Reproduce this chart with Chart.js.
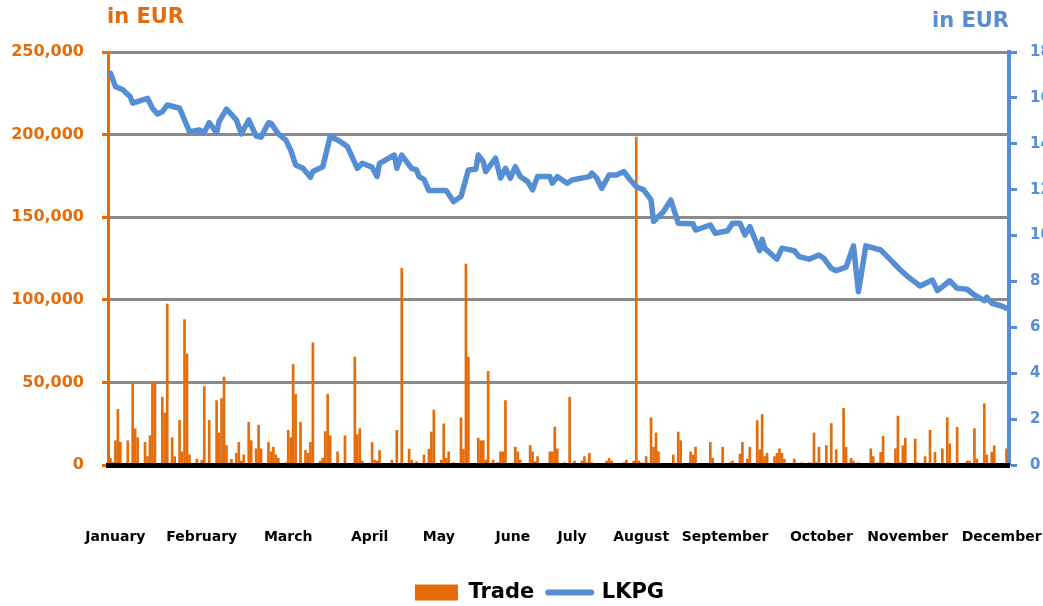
<!DOCTYPE html>
<html>
<head>
<meta charset="utf-8">
<script src="https://cdn.jsdelivr.net/npm/chart.js@4/dist/chart.umd.min.js"></script>
<style>
  html, body { margin: 0; padding: 0; background: #fff; }
</style>
</head>
<body>
<canvas id="myChart" width="1043" height="606"></canvas>
<script>
// month labels, placed on the day where they sit on the axis
const monthNames = ['January', 'February', 'March', 'April', 'May', 'June',
    'July', 'August', 'September', 'October', 'November', 'December'];
const monthDays = [3, 38, 73, 106, 134, 164, 188, 216, 250, 289, 324, 362];

// LKPG share price (right axis, EUR) - day of year / value
const priceDays = [
    1, 3, 6, 9, 10, 16, 18, 20, 22, 24,
    29, 33, 37, 39, 41, 44, 45, 48, 52, 54,
    57, 60, 62, 65, 66, 69, 72, 74, 76, 79,
    82, 83, 87, 90, 93, 97, 101, 103, 107, 109,
    110, 116, 117, 119, 123, 125, 126, 128, 130, 137,
    140, 143, 146, 149, 150, 152, 153, 157, 159, 161,
    163, 165, 167, 170, 172, 174, 179, 180, 182, 186,
    188, 195, 196, 198, 200, 203, 206, 209, 211, 214,
    217, 220, 221, 225, 228, 231, 237, 238, 244, 246,
    251, 253, 256, 258, 260, 264, 265, 266, 271, 273,
    278, 280, 284, 288, 290, 293, 295, 299, 302, 304,
    307, 313, 316, 321, 324, 329, 334, 336, 341, 344,
    348, 351, 355, 356, 358, 362, 364
];
const priceValues = [
    17.07, 16.50, 16.35, 16.05, 15.77, 15.98, 15.55, 15.30, 15.40, 15.69,
    15.55, 14.53, 14.60, 14.49, 14.92, 14.49, 14.97, 15.51, 15.04, 14.43,
    15.04, 14.34, 14.29, 14.92, 14.90, 14.43, 14.17, 13.73, 13.08, 12.93,
    12.54, 12.79, 13.00, 14.31, 14.17, 13.88, 12.93, 13.15, 12.98, 12.57,
    13.15, 13.51, 12.93, 13.51, 12.93, 12.86, 12.57, 12.45, 11.96, 11.96,
    11.48, 11.70, 12.86, 12.89, 13.51, 13.22, 12.79, 13.37, 12.50, 12.93,
    12.50, 13.00, 12.57, 12.35, 11.99, 12.57, 12.57, 12.28, 12.57, 12.28,
    12.42, 12.57, 12.72, 12.50, 12.06, 12.64, 12.64, 12.79, 12.50, 12.13,
    11.99, 11.55, 10.61, 11.04, 11.55, 10.54, 10.51, 10.24, 10.46, 10.10,
    10.21, 10.54, 10.54, 10.03, 10.39, 9.34, 9.84, 9.45, 8.97, 9.45,
    9.34, 9.08, 8.97, 9.15, 9.01, 8.57, 8.47, 8.62, 9.55, 7.55,
    9.55, 9.37, 9.05, 8.50, 8.21, 7.80, 8.06, 7.60, 8.03, 7.70,
    7.66, 7.41, 7.16, 7.31, 7.05, 6.93, 6.83
];

// Trade (left axis, EUR) - day of year / value
const tradeDays = [
    1, 2, 3, 4, 5, 8, 9, 10, 11, 12,
    15, 16, 17, 18, 19, 22, 23, 24, 26, 27,
    29, 30, 31, 32, 33, 36, 38, 39, 41, 44,
    45, 46, 47, 48, 50, 52, 53, 54, 55, 57,
    58, 60, 61, 62, 65, 66, 67, 68, 69, 72,
    73, 74, 75, 76, 78, 80, 81, 82, 83, 86,
    87, 88, 89, 90, 93, 94, 96, 100, 101, 102,
    103, 107, 108, 109, 110, 115, 117, 119, 122, 123,
    125, 128, 130, 131, 132, 135, 136, 137, 138, 140,
    143, 144, 145, 146, 150, 151, 152, 153, 154, 156,
    158, 159, 160, 161, 165, 166, 167, 171, 172, 173,
    174, 177, 179, 180, 181, 182, 185, 187, 189, 192,
    193, 194, 195, 196, 199, 202, 203, 204, 206, 208,
    209, 210, 213, 214, 215, 216, 218, 220, 221, 222,
    223, 224, 228, 229, 231, 232, 236, 237, 238, 243,
    244, 245, 249, 252, 253, 256, 257, 259, 260, 263,
    264, 265, 266, 267, 270, 271, 272, 273, 274, 278,
    281, 284, 286, 287, 288, 291, 293, 295, 298, 299,
    301, 302, 304, 309, 310, 312, 313, 314, 316, 319,
    320, 321, 322, 323, 327, 328, 331, 333, 335, 338,
    340, 341, 344, 348, 349, 351, 352, 355, 356, 358,
    359, 363, 364
];
const tradeValues = [
    4000, 1500, 14700, 33700, 13700, 14700, 1000, 50000, 22000, 16500,
    13700, 5100, 17700, 50000, 50000, 41000, 31600, 97500, 16500, 5100,
    27000, 8000, 88000, 67300, 6100, 3500, 3000, 47500, 27000, 39000,
    19400, 40200, 53200, 11800, 3500, 7100, 13700, 2400, 6100, 25900,
    14700, 9800, 24100, 9800, 13700, 8000, 10800, 6100, 4100, 1400,
    21000, 16500, 60800, 42800, 25900, 8800, 7100, 13700, 74000, 2400,
    4100, 20200, 42800, 17700, 8000, 1000, 17700, 65300, 18400, 22000,
    2400, 13700, 3000, 2400, 8800, 3000, 21000, 119000, 9600, 3000,
    2000, 6100, 9600, 20000, 33300, 3000, 24900, 4100, 8000, 1400,
    28600, 9600, 121700, 65300, 16300, 14700, 14700, 3000, 56700, 3000,
    1400, 8000, 8000, 39000, 10800, 8000, 3000, 11800, 8000, 2000,
    5100, 800, 8000, 8000, 23000, 9800, 1400, 41000, 2400, 2400,
    5100, 1400, 7100, 1400, 700, 2400, 4100, 2400, 800, 700,
    1400, 3000, 2400, 198500, 2400, 1400, 5100, 28600, 10800, 19400,
    8000, 1000, 800, 6100, 20000, 14700, 8000, 6100, 10800, 1000,
    13700, 4100, 10800, 1400, 2400, 6700, 13700, 3500, 10800, 26900,
    9200, 30600, 5100, 7100, 5100, 7100, 9800, 7100, 3500, 3500,
    1400, 1400, 19400, 1400, 10800, 11800, 25100, 9200, 34300, 10800,
    4100, 2400, 1400, 9800, 5100, 1400, 7750, 17300, 1400, 9800,
    29600, 1400, 11600, 16300, 15700, 1400, 5100, 21000, 7750, 9800,
    28600, 12800, 22800, 2400, 2400, 22000, 3500, 37100, 6100, 7750,
    11600, 500, 9800
];

const unitLabel = 'in EUR';

const ORANGE = '#E46C0A';
const BLUE = '#558ED5';
const GRID = '#8a8a8a';
const FONT = "'DejaVu Sans', sans-serif";

// "in EUR" over each axis
const axisUnits = {
    id: 'axisUnits',
    afterDraw(chart) {
        const c = chart.ctx;
        c.save();
        c.font = 'bold 21px ' + FONT;
        c.textBaseline = 'middle';
        c.fillStyle = ORANGE;
        c.textAlign = 'left';
        c.fillText(unitLabel, chart.chartArea.left - 1, 18);
        c.fillStyle = BLUE;
        c.textAlign = 'right';
        c.fillText(unitLabel, chart.chartArea.right, 22);
        c.restore();
    }
};

// legend sits a bit right of the canvas centre in the original
const legendNudge = {
    id: 'legendNudge',
    afterLayout(chart) {
        chart.legend.left += 18;
        chart.legend.right += 18;
    }
};

const ctx = document.getElementById('myChart').getContext('2d');
new Chart(ctx, {
    data: {
        datasets: [{
            type: 'bar',
            label: 'Trade',
            data: tradeDays.map((d, i) => ({ x: d, y: tradeValues[i] })),
            yAxisID: 'y',
            backgroundColor: ORANGE,
            barThickness: 2,
            order: 2
        }, {
            type: 'line',
            label: 'LKPG',
            data: priceDays.map((d, i) => ({ x: d, y: priceValues[i] })),
            yAxisID: 'y1',
            borderColor: BLUE,
            borderWidth: 5.5,
            pointRadius: 0,
            tension: 0,
            borderJoinStyle: 'round',
            borderCapStyle: 'round',
            order: 1
        }]
    },
    options: {
        responsive: false,
        animation: false,
        layout: { padding: { top: 52, left: 0, right: 0, bottom: -7 } },
        scales: {
            x: {
                type: 'linear',
                min: 0,
                max: 365,
                offset: false,
                afterBuildTicks: s => { s.ticks = monthDays.map(v => ({ value: v })); },
                afterFit: s => { s.height = 103; s.paddingLeft = 0; s.paddingRight = 0; },
                grid: { display: false, drawTicks: false, offset: false },
                border: { display: true, color: '#000', width: 5, z: 1 },
                ticks: {
                    autoSkip: false,
                    maxRotation: 0,
                    padding: 64,
                    color: '#000',
                    font: { family: FONT, size: 14, weight: 'bold' },
                    callback: (v, i) => monthNames[i]
                }
            },
            y: {
                position: 'left',
                min: 0,
                max: 250000,
                afterFit: s => { s.width = 108; },
                grid: {
                    color: c => c.tick && c.tick.value === 0 ? 'rgba(0,0,0,0)' : GRID,
                    lineWidth: 3,
                    tickColor: ORANGE,
                    tickLength: 6,
                    tickWidth: 3
                },
                border: { color: ORANGE, width: 3 },
                ticks: {
                    stepSize: 50000,
                    padding: 18,
                    color: ORANGE,
                    font: { family: FONT, size: 16, weight: 'bold' },
                    callback: v => v.toLocaleString('en-US')
                }
            },
            y1: {
                position: 'right',
                min: 0,
                max: 18,
                afterFit: s => { s.width = 34; },
                grid: {
                    drawOnChartArea: false,
                    tickColor: BLUE,
                    tickLength: 8,
                    tickWidth: 3
                },
                border: { color: BLUE, width: 4 },
                ticks: {
                    stepSize: 2,
                    padding: 13,
                    color: BLUE,
                    font: { family: FONT, size: 15, weight: 'bold' }
                }
            }
        },
        plugins: {
            tooltip: { enabled: false },
            legend: {
                position: 'bottom',
                labels: {
                    usePointStyle: true,
                    pointStyleWidth: 43,
                    boxHeight: 16,
                    padding: 14,
                    color: '#000',
                    font: { family: FONT, size: 21, weight: 'bold' },
                    generateLabels: () => [
                        { text: 'Trade', fillStyle: ORANGE, strokeStyle: ORANGE, lineWidth: 0,
                          pointStyle: 'rect', datasetIndex: 0, hidden: false, fontColor: '#000' },
                        { text: 'LKPG', fillStyle: BLUE, strokeStyle: BLUE, lineWidth: 6, lineCap: 'round',
                          pointStyle: 'line', datasetIndex: 1, hidden: false, fontColor: '#000' }
                    ]
                }
            }
        }
    },
    plugins: [axisUnits, legendNudge]
});
</script>
</body>
</html>
